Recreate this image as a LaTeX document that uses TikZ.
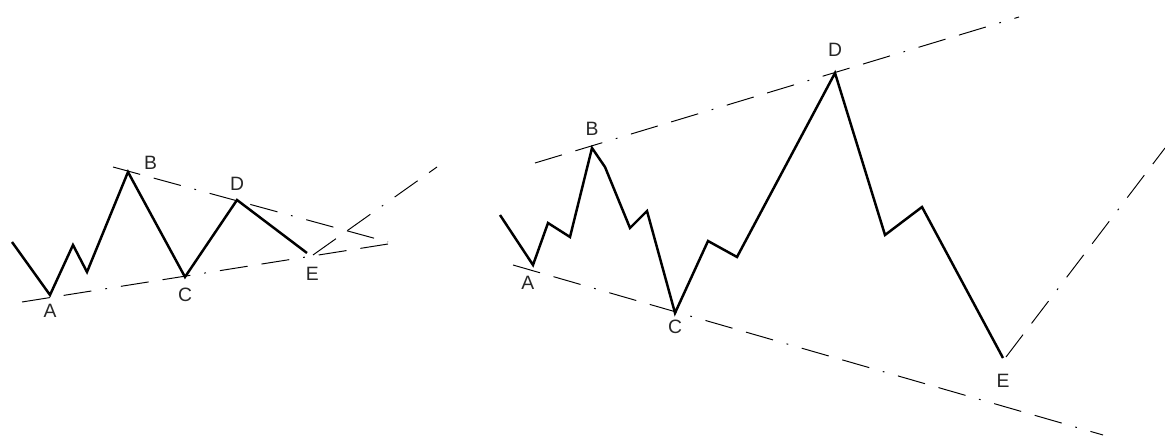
\documentclass[tikz,border=0pt]{standalone}
\usepackage{fontspec}
\setmainfont{Liberation Sans}
\usetikzlibrary{calc,positioning}
\tikzset{
  onda/.style={line width=1.4pt, line join=miter, draw=black},
  guia/.style={line width=0.55pt, draw=black, dash pattern=on 16pt off 8pt on 16pt off 8pt on 1pt off 8pt},
  etiqueta/.style={font=\fontsize{11pt}{13pt}\selectfont, inner sep=1pt, text=black!85},
}

\begin{document}
\begin{tikzpicture}[x=0.02cm, y=-0.02cm, node distance=6pt]
    \useasboundingbox (0,0) rectangle (1165,438);
    % triangulo (izquierda)
    \coordinate (t0) at (12,242);  \coordinate (tA) at (50,295);
    \coordinate (t1) at (73,245);  \coordinate (t2) at (87,272);
    \coordinate (tB) at (128,172); \coordinate (tC) at (185,277);
    \coordinate (tD) at (237,200); \coordinate (tE) at (307,253);
    \coordinate (ts1) at (113,167); \coordinate (ts2) at (388,242);
    \coordinate (ti1) at (22,302);  \coordinate (ti2) at (388,244);
    \coordinate (tr1) at (313,255); \coordinate (tr2) at (437,167);
    \draw[guia] (ts1) -- (ts2);
    \draw[guia] (ti1) -- (ti2);
    \draw[guia] (tr1) -- (tr2);
    \draw[onda] (t0) -- (tA) -- (t1) -- (t2) -- (tB) -- (tC) -- (tD) -- (tE);
    \node[etiqueta, below=4pt of tA] (lA) {A};
    \node[etiqueta, above right=0pt and 8pt of tB] (lB) {B};
    \node[etiqueta, below=5pt of tC] (lC) {C};
    \node[etiqueta, above=4pt of tD] (lD) {D};
    \node[etiqueta, below=7pt of tE, xshift=3pt] (lE) {E};
    % expansion (derecha)
    \coordinate (e0) at (500,215); \coordinate (eA) at (533,265);
    \coordinate (e1) at (548,223); \coordinate (e2) at (570,237);
    \coordinate (eB) at (592,148); \coordinate (e3) at (605,167);
    \coordinate (e4) at (630,228); \coordinate (e5) at (647,211);
    \coordinate (eC) at (675,313); \coordinate (e6) at (708,241);
    \coordinate (e7) at (737,257); \coordinate (eD) at (835,73);
    \coordinate (e8) at (885,235); \coordinate (e9) at (922,207);
    \coordinate (eE) at (1003,358);
    \coordinate (es1) at (535,163);  \coordinate (es2) at (1019,17);
    \coordinate (ei1) at (513,265);  \coordinate (ei2) at (1103,435);
    \coordinate (er1) at (1006,357); \coordinate (er2) at (1165,148);
    \draw[guia] (es1) -- (es2);
    \draw[guia] (ei1) -- (ei2);
    \draw[guia] (er1) -- (er2);
    \draw[onda] (e0) -- (eA) -- (e1) -- (e2) -- (eB) -- (e3) -- (e4) -- (e5) -- (eC)
                -- (e6) -- (e7) -- (eD) -- (e8) -- (e9) -- (eE);
    \node[etiqueta, below=5pt of eA, xshift=-3pt] (rA) {A};
    \node[etiqueta, above=6pt of eB] (rB) {B};
    \node[etiqueta, below=3pt of eC] (rC) {C};
    \node[etiqueta, above=8pt of eD] (rD) {D};
    \node[etiqueta, below=8pt of eE] (rE) {E};
  \end{tikzpicture}
\end{document}
